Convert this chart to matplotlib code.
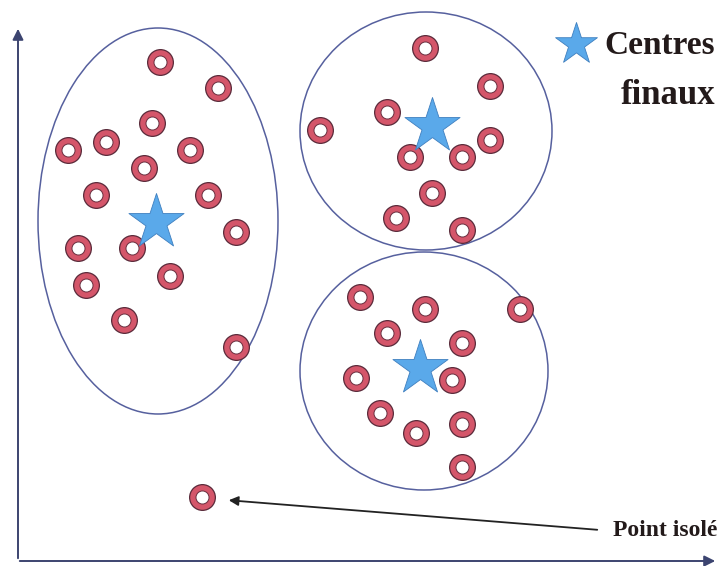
import matplotlib
matplotlib.use("Agg")
import matplotlib.pyplot as plt
from matplotlib.patches import Ellipse

# point positions (picture pixels, y downward)
left_x = [160, 218, 68, 106, 152, 190, 144, 96, 208, 236, 78, 132, 170, 86, 124, 236]
left_y = [62, 88, 150, 142, 123, 150, 168, 195, 195, 232, 248, 248, 276, 285, 320, 347]
top_x = [425, 490, 320, 387, 490, 410, 462, 432, 396, 462]
top_y = [48, 86, 130, 112, 140, 157, 157, 193, 218, 230]
bot_x = [360, 425, 520, 387, 462, 356, 452, 380, 416, 462, 462]
bot_y = [297, 309, 309, 333, 343, 378, 380, 413, 433, 424, 467]
iso_x = [202]
iso_y = [497]

star_x = [156, 432, 420]
star_y = [222, 126, 368]

# clusters: center x, center y, width, height
clusters_cx = [158, 426, 424]
clusters_cy = [221, 131, 371]
clusters_w = [240, 252, 248]
clusters_h = [386, 238, 238]

fig = plt.figure(figsize=(7.2, 5.66), dpi=100)
ax = fig.add_axes([0, 0, 1, 1])
ax.set_xlim(0, 720)
ax.set_ylim(566, 0)
ax.axis("off")

edge = "#56609e"
for cx, cy, w, h in zip(clusters_cx, clusters_cy, clusters_w, clusters_h):
    ax.add_patch(Ellipse((cx, cy), w, h, fill=False, ec=edge, lw=1.1))

# axes arrows
ax.annotate("", xy=(18, 26), xytext=(18, 561),
            arrowprops=dict(arrowstyle="-|>", color="#3c4470", lw=1.4, mutation_scale=16))
ax.annotate("", xy=(718, 561), xytext=(17, 561),
            arrowprops=dict(arrowstyle="-|>", color="#3c4470", lw=1.4, mutation_scale=16))

# rings
xs = left_x + top_x + bot_x + iso_x
ys = left_y + top_y + bot_y + iso_y
px = 72 / 100
ax.scatter(xs, ys, s=(27 * px) ** 2, c="#5a2a3a", zorder=3, lw=0)
ax.scatter(xs, ys, s=(24.5 * px) ** 2, c="#d4566a", zorder=4, lw=0)
ax.scatter(xs, ys, s=(14 * px) ** 2, c="#6a3040", zorder=5, lw=0)
ax.scatter(xs, ys, s=(12 * px) ** 2, c="white", zorder=6, lw=0)

# final centres
ax.scatter(star_x, star_y, marker="*", s=(58 * px) ** 2, c="#5aa9ea",
           edgecolors="#3f7fbf", linewidths=0.6, zorder=7)
ax.scatter([576], [44], marker="*", s=(44 * px) ** 2, c="#5aa9ea",
           edgecolors="#3f7fbf", linewidths=0.6, zorder=7)

font = dict(family="Liberation Serif", weight="bold", color="#231a1a")
ax.text(715, 46, "Centres", ha="right", va="center", fontsize=24, **font)
ax.text(715, 96, "finaux", ha="right", va="center", fontsize=25, **font)
ax.text(717, 531, "Point isolé", ha="right", va="center", fontsize=17, **font)

ax.annotate("", xy=(226, 500), xytext=(600, 530),
            arrowprops=dict(arrowstyle="-|>", color="#222222", lw=1.3, mutation_scale=14))

fig.savefig("out.png", dpi=100)
